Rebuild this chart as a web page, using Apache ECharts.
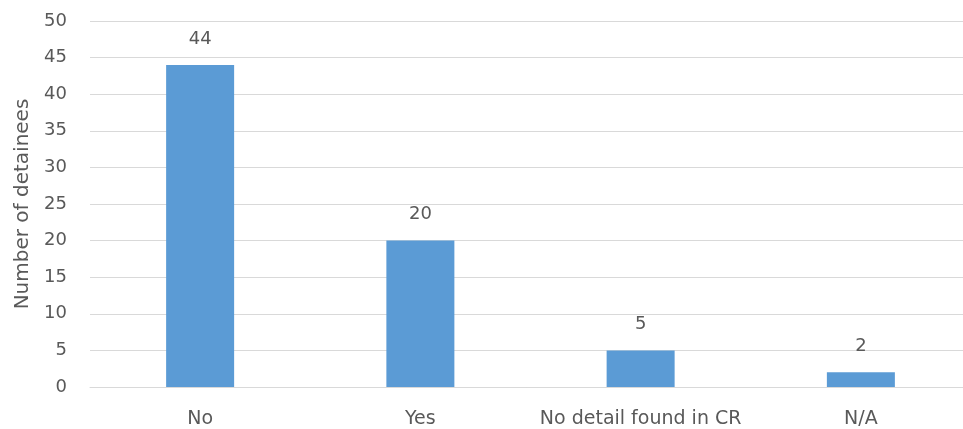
<!DOCTYPE html>
<html>
<head>
<meta charset="utf-8">
<script src="https://cdn.jsdelivr.net/npm/echarts@6/dist/echarts.min.js"></script>
<style>
  html, body { margin: 0; padding: 0; background: #ffffff; }
  #chart { width: 963px; height: 429px; }
</style>
</head>
<body>
<div id="chart"></div>
<script>
// Detainee counts by answer category
const categories = ['No', 'Yes', 'No detail found in CR', 'N/A'];
const detainees = [44, 20, 5, 2];
const yTicks = { min: 0, max: 50, interval: 5 };

const textColor = '#595959';
const fontFamily = '"DejaVu Sans", sans-serif';

const chart = echarts.init(document.getElementById('chart'));
chart.setOption({
  animation: false,
  grid: { left: 90, top: 21, width: 881, height: 366, containLabel: false, outerBoundsMode: 'none' },
  xAxis: {
    type: 'category',
    data: categories,
    axisLine: { show: true, lineStyle: { color: '#d9d9d9', width: 1 } },
    axisTick: { show: false },
    axisLabel: { color: textColor, fontSize: 19, fontFamily, margin: 23, interval: 0 }
  },
  yAxis: {
    type: 'value',
    min: yTicks.min,
    max: yTicks.max,
    interval: yTicks.interval,
    name: 'Number of detainees',
    nameLocation: 'middle',
    nameGap: 57,
    nameRotate: 90,
    nameTextStyle: { color: textColor, fontSize: 20, fontFamily },
    axisLine: { show: false },
    axisTick: { show: false },
    axisLabel: { color: textColor, fontSize: 18, fontFamily, margin: 23 },
    splitLine: { lineStyle: { color: '#d9d9d9', width: 1 } }
  },
  series: [{
    type: 'bar',
    data: detainees,
    barWidth: 68,
    itemStyle: { color: '#5b9bd5' },
    label: {
      show: true,
      position: 'top',
      distance: 17,
      color: textColor,
      fontSize: 18,
      fontFamily
    }
  }]
});
</script>
</body>
</html>
